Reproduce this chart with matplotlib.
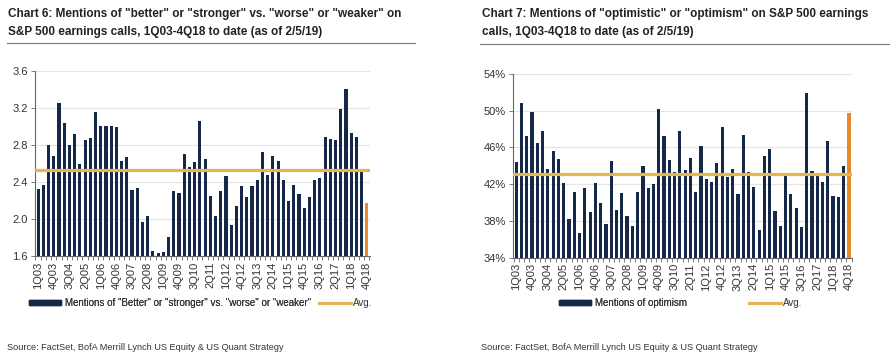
import matplotlib
matplotlib.use("Agg")
import matplotlib.pyplot as plt
from matplotlib.patches import Patch
from matplotlib.lines import Line2D
import numpy as np

plt.rcParams['font.family'] = ['Liberation Sans', 'DejaVu Sans']

quarters = [f"{q}Q{y:02d}" for y in range(3, 19) for q in range(1, 5)]
tick_labels = quarters[::3]

better_worse = [2.32, 2.37, 2.80, 2.68, 3.25, 3.04, 2.80, 2.92, 2.59, 2.85,
                2.88, 3.16, 3.01, 3.01, 3.00, 2.99, 2.63, 2.67, 2.31, 2.34,
                1.97, 2.03, 1.65, 1.63, 1.64, 1.80, 2.30, 2.28, 2.70, 2.56,
                2.62, 3.06, 2.65, 2.25, 2.03, 2.30, 2.47, 1.93, 2.14, 2.36,
                2.24, 2.36, 2.42, 2.72, 2.48, 2.68, 2.63, 2.42, 2.19, 2.37,
                2.27, 2.12, 2.24, 2.42, 2.44, 2.89, 2.86, 2.85, 3.19, 3.41,
                2.93, 2.89, 2.52, 2.17]
better_avg = 2.53

optimism = [44.4, 50.8, 47.2, 49.9, 46.5, 47.8, 43.7, 45.6, 44.7, 42.1,
            38.2, 41.2, 36.7, 41.6, 39.0, 42.1, 40.0, 37.7, 44.5, 39.2,
            41.0, 38.5, 37.4, 41.2, 44.0, 41.6, 42.0, 50.2, 47.3, 44.6,
            43.3, 47.8, 43.6, 44.8, 41.2, 46.2, 42.6, 42.2, 44.3, 48.2,
            42.8, 43.7, 40.9, 47.4, 43.3, 41.7, 37.0, 45.1, 45.8, 39.1,
            37.4, 42.9, 40.9, 39.4, 37.3, 51.9, 43.4, 42.9, 42.2, 46.7,
            40.7, 40.6, 44.0, 49.8]
optimism_avg = 43.1

navy = "#16284a"
gold = "#e3b74f"
orange = "#e8892b"
txt = "#333333"

fig = plt.figure(figsize=(8.9, 3.6), dpi=100)

def draw(ax, vals, avg, ylim, yticks, yfmt):
    x = np.arange(len(vals))
    colors = [navy] * (len(vals) - 1) + [orange]
    ax.bar(x, vals, width=0.6, color=colors, zorder=2)
    ax.axhline(avg, color=gold, lw=2.3, zorder=3)
    ax.set_ylim(*ylim)
    ax.set_xlim(-0.6, len(vals) - 0.4)
    ax.set_yticks(yticks)
    ax.set_yticklabels([yfmt(v) for v in yticks], fontsize=8, color=txt)
    ax.set_xticks(np.arange(len(vals) + 1) - 0.5, minor=True)
    ax.set_xticks(x[::3])
    ax.set_xticklabels(tick_labels, rotation=90, fontsize=8, color=txt)
    ax.grid(axis='y', color='#e4e4e4', lw=0.8, zorder=0)
    for s in ['top', 'right']:
        ax.spines[s].set_visible(False)
    for s in ['left', 'bottom']:
        ax.spines[s].set_color('#666666')
        ax.spines[s].set_linewidth(0.8)
    ax.tick_params(axis='y', length=3, width=0.6, color='#666666', pad=2)
    ax.tick_params(axis='x', which='major', length=0, pad=4)
    ax.tick_params(axis='x', which='minor', length=3, width=0.6, color='#666666')

ax1 = fig.add_axes([0.0393, 0.2889, 0.3764, 0.5139])
draw(ax1, better_worse, better_avg, (1.6, 3.6), [1.6, 2.0, 2.4, 2.8, 3.2, 3.6],
     lambda v: f"{v:.1f}")
ax2 = fig.add_axes([0.5764, 0.2842, 0.381, 0.5103])
draw(ax2, optimism, optimism_avg, (34, 54), [34, 38, 42, 46, 50, 54],
     lambda v: f"{v:.0f}%")

# Titles
tfs = 8.5
fig.text(8/890, 1 - 14/360, 'Chart 6: Mentions of "better" or "stronger" vs. "worse" or "weaker" on',
         fontsize=tfs, fontweight='bold', color='#222222', va='center')
fig.text(8/890, 1 - 32/360, 'S&P 500 earnings calls, 1Q03-4Q18 to date (as of 2/5/19)',
         fontsize=tfs, fontweight='bold', color='#222222', va='center')
fig.add_artist(Line2D([7/890, 415/890], [1 - 43/360] * 2, color='#777777', lw=0.8))

fig.text(482/890, 1 - 14/360, 'Chart 7: Mentions of "optimistic" or "optimism" on S&P 500 earnings',
         fontsize=tfs, fontweight='bold', color='#222222', va='center')
fig.text(482/890, 1 - 32/360, 'calls, 1Q03-4Q18 to date (as of 2/5/19)',
         fontsize=tfs, fontweight='bold', color='#222222', va='center')
fig.add_artist(Line2D([480/890, 890/890], [1 - 44/360] * 2, color='#777777', lw=0.8))

# Legends
lfs = 7
def legend(x0, label, avgx):
    h = [Patch(color=navy, label=label)]
    l1 = fig.legend(handles=h, loc='center left', bbox_to_anchor=(x0, 1 - 303/360),
                    frameon=False, fontsize=lfs, handlelength=3.3, handleheight=0.5,
                    borderpad=0, handletextpad=0.4, labelcolor=txt)
    h2 = [Line2D([0], [0], color=gold, lw=2.3, label='Avg.')]
    fig.legend(handles=h2, loc='center left', bbox_to_anchor=(avgx, 1 - 303/360),
               frameon=False, fontsize=lfs, handlelength=3.3, borderpad=0,
               handletextpad=0.2, labelcolor=txt)
    fig.add_artist(l1)

legend(24/890, 'Mentions of "Better" or "stronger" vs. "worse" or "weaker"', 314/890)
legend(554/890, 'Mentions of optimism', 744/890)

sfs = 6.6
fig.text(7/890, 1 - 347/360, 'Source: FactSet, BofA Merrill Lynch US Equity & US Quant Strategy',
         fontsize=sfs, color=txt, va='center')
fig.text(481/890, 1 - 347/360, 'Source: FactSet, BofA Merrill Lynch US Equity & US Quant Strategy',
         fontsize=sfs, color=txt, va='center')

fig.savefig("out.png", dpi=100, facecolor='white')
